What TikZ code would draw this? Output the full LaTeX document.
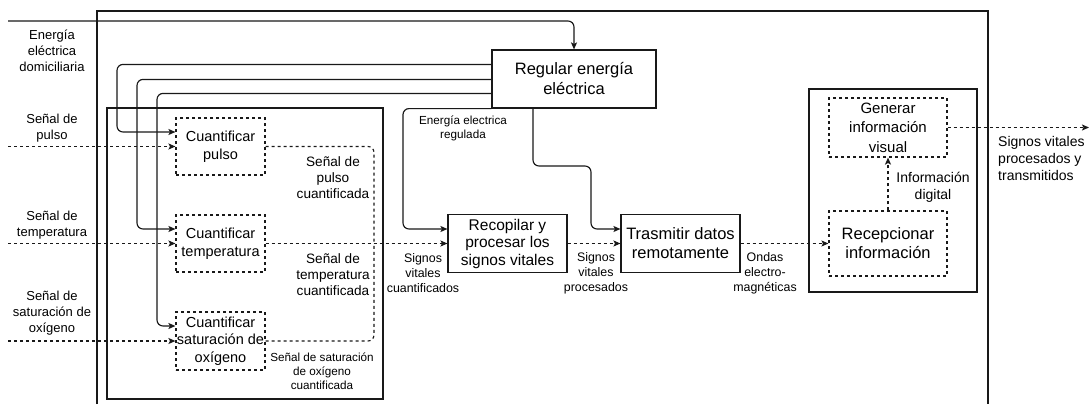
\documentclass[tikz,border=0pt]{standalone}
\usepackage{fontspec}
\setmainfont{Liberation Sans}
\usetikzlibrary{arrows.meta}
\tikzset{
  ln/.style={line width=1.15pt, draw=black!90},
  solidbox/.style={ln, rectangle, inner sep=0pt, align=center},
  dashbox/.style={solidbox, dash pattern=on 3pt off 3pt},
  conn/.style={ln, rounded corners=6pt},
  arr/.style={conn, -{Stealth[length=7pt,width=6pt,inset=1.5pt]}},
  dconn/.style={conn, dash pattern=on 3pt off 3pt},
  darr/.style={arr, dash pattern=on 3pt off 3pt},
  lbl/.style={inner sep=0pt, align=center},
  fA/.style={font=\fontsize{13}{16}\selectfont},
  fB/.style={font=\fontsize{13.6}{16}\selectfont},
  fC/.style={font=\fontsize{11.7}{14}\selectfont},
  fD/.style={font=\fontsize{12.4}{15}\selectfont},
  fE/.style={font=\fontsize{14}{17}\selectfont},
}
\begin{document}
\begin{tikzpicture}[x=1pt, y=-1pt]
\useasboundingbox (0,0) rectangle (1091,404);
% frames
\draw[ln] (97,404) -- (97,11) -- (988,11) -- (988,404);
\node[solidbox, minimum width=276pt, minimum height=291pt] (inner) at (245,253.5) {};
\node[solidbox, minimum width=168pt, minimum height=203pt] (rbox) at (893,190.5) {};
% boxes
\node[solidbox, minimum width=164pt, minimum height=58pt, font=\fontsize{16.5}{20}\selectfont] (reg) at (574,79) {Regular energía\\eléctrica};
\node[dashbox, minimum width=89pt, minimum height=57pt, font=\fontsize{14.5}{17.5}\selectfont] (cp) at (220.5,146.5) {Cuantificar\\pulso};
\node[dashbox, minimum width=89pt, minimum height=57pt, font=\fontsize{14.5}{17.5}\selectfont] (ct) at (220.5,243.5) {Cuantificar\\temperatura};
\node[dashbox, minimum width=89pt, minimum height=58pt, font=\fontsize{14.5}{17.5}\selectfont] (cs) at (220.5,341) {Cuantificar\\saturación de\\oxígeno};
\node[solidbox, minimum width=119pt, minimum height=58pt, font=\fontsize{15.5}{17.5}\selectfont] (rec) at (507.5,243.5) {Recopilar y\\procesar los\\signos vitales};
\node[solidbox, minimum width=119pt, minimum height=58pt, font=\fontsize{16.5}{19}\selectfont] (tra) at (680.5,243.5) {Trasmitir datos\\remotamente};
\node[dashbox, minimum width=118pt, minimum height=59pt, font=\fontsize{15}{19.5}\selectfont] (gen) at (888,127.5) {Generar\\información\\visual};
\node[dashbox, minimum width=118pt, minimum height=65pt, font=\fontsize{16.5}{19}\selectfont] (rcp) at (888,243.5) {Recepcionar\\información};
% free ends
\coordinate (inE) at (8,21);
\coordinate (inP) at (8,146.5);
\coordinate (inT) at (8,243.5);
\coordinate (inS) at (8,341);
\coordinate (outV) at (1089,127.5);
\coordinate (j) at (374,243.5);
% power connectors
\draw[arr] (inE) -| (reg.north);
\draw[arr] ([yshift=-15pt]reg.north west) -| (117,132) -- ([yshift=14.5pt]cp.west);
\draw[arr] ([yshift=-30pt]reg.north west) -| (137,229) -- ([yshift=14.5pt]ct.west);
\draw[arr] ([yshift=-44pt]reg.north west) -| (157,326) -- ([yshift=15pt]cs.west);
\draw[arr] (reg.south west) -| (403,229) -- ([yshift=14.5pt]rec.west);
\draw[arr] ([xshift=-41pt]reg.south) |- (591,166) -- (591,229) -- ([yshift=14.5pt]tra.west);
% signal connectors
\draw[darr] (inP) -- (inP -| cp.west);
\draw[darr] (inT) -- (inT -| ct.west);
\draw[darr] (inS) -- (inS -| cs.west);
\draw[dconn] (cp.east) -| (j);
\draw[dconn] (cs.east) -| (j);
\draw[darr] (ct.east) -- (rec.west);
\draw[darr] (rec.east) -- (tra.west);
\draw[darr] (tra.east) -- (rcp.west);
\draw[darr] (rcp.north) -- (gen.south);
\draw[darr] (gen.east) -- (outV);
% labels
\node[lbl, fA] (lE) at (52,51) {Energía\\eléctrica\\domiciliaria};
\node[lbl, fA] (lP) at (52,128) {Señal de\\pulso};
\node[lbl, fA] (lT) at (52,225) {Señal de\\temperatura};
\node[lbl, fA] (lS) at (52,313) {Señal de\\saturación de\\oxígeno};
\node[lbl, fB] (lPc) at (333,178) {Señal de\\pulso\\cuantificada};
\node[lbl, fB] (lTc) at (333,275) {Señal de\\temperatura\\cuantificada};
\node[lbl, fC] (lSc) at (322,371) {Señal de saturación\\de oxígeno\\cuantificada};
\node[lbl, fC] (lR) at (463,128.5) {Energía electrica\\regulada};
\node[lbl, fD] (lVc) at (423,273) {Signos\\vitales\\cuantificados};
\node[lbl, fD] (lVp) at (596,273) {Signos\\vitales\\procesados};
\node[lbl, fD] (lO) at (765,273) {Ondas\\electro-\\magnéticas};
\node[lbl, fE] (lI) at (933,187) {Información\\digital};
\node[lbl, fE, align=left, anchor=west] (lOut) at (998,158) {Signos vitales\\procesados y\\transmitidos};
\end{tikzpicture}
\end{document}
